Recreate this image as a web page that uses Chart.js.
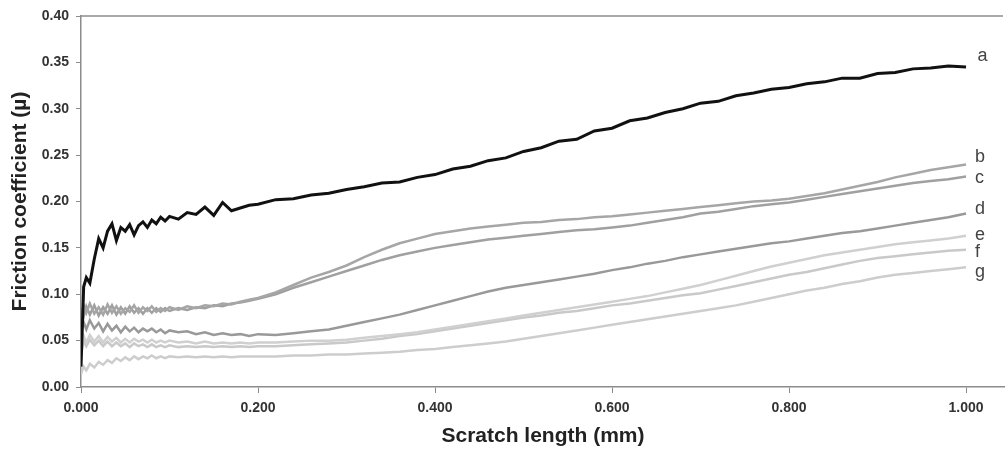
<!DOCTYPE html>
<html>
<head>
<meta charset="utf-8">
<script src="https://cdn.jsdelivr.net/npm/chart.js@4/dist/chart.umd.min.js"></script>
<style>
  html, body { margin: 0; padding: 0; background: #fff; }
  #wrap { width: 1005px; height: 451px; position: relative; }
</style>
</head>
<body>
<div id="wrap"><canvas id="chart"></canvas></div>
<script>
// scratch length (mm)
var scratchLength = [
  0, 0.003, 0.006, 0.01, 0.015, 0.02, 0.025, 0.03, 0.035, 0.04, 0.045, 0.05,
  0.055, 0.06, 0.065, 0.07, 0.075, 0.08, 0.085, 0.09, 0.095, 0.1,
  0.11, 0.12, 0.13, 0.14, 0.15, 0.16, 0.17, 0.18, 0.19, 0.2,
  0.22, 0.24, 0.26, 0.28, 0.30, 0.32, 0.34, 0.36, 0.38, 0.40,
  0.42, 0.44, 0.46, 0.48, 0.50, 0.52, 0.54, 0.56, 0.58, 0.60,
  0.62, 0.64, 0.66, 0.68, 0.70, 0.72, 0.74, 0.76, 0.78, 0.80,
  0.82, 0.84, 0.86, 0.88, 0.90, 0.92, 0.94, 0.96, 0.98, 1.00
];

// friction coefficient per curve
var curveA = [
  0.022, 0.108, 0.118, 0.112, 0.138, 0.160, 0.150, 0.168, 0.176, 0.158, 0.172, 0.168,
  0.175, 0.164, 0.174, 0.178, 0.172, 0.180, 0.176, 0.183, 0.179, 0.184,
  0.181, 0.188, 0.186, 0.194, 0.185, 0.199, 0.190, 0.193, 0.196, 0.197,
  0.202, 0.203, 0.207, 0.209, 0.213, 0.216, 0.220, 0.221, 0.226, 0.229,
  0.235, 0.238, 0.244, 0.247, 0.254, 0.258, 0.265, 0.267, 0.276, 0.279,
  0.287, 0.290, 0.296, 0.300, 0.306, 0.308, 0.314, 0.317, 0.321, 0.323,
  0.327, 0.329, 0.333, 0.333, 0.338, 0.339, 0.343, 0.344, 0.346, 0.345
];
var curveB = [
  0.078, 0.088, 0.080, 0.090, 0.079, 0.086, 0.078, 0.089, 0.080, 0.087, 0.079, 0.085,
  0.081, 0.088, 0.080, 0.086, 0.082, 0.087, 0.081, 0.085, 0.082, 0.086,
  0.083, 0.087, 0.085, 0.088, 0.087, 0.090, 0.089, 0.092, 0.094, 0.096,
  0.102, 0.110, 0.118, 0.124, 0.131, 0.140, 0.148, 0.155, 0.160, 0.165,
  0.168, 0.171, 0.173, 0.175, 0.177, 0.178, 0.180, 0.181, 0.183, 0.184,
  0.186, 0.188, 0.190, 0.192, 0.194, 0.196, 0.198, 0.200, 0.201, 0.203,
  0.206, 0.209, 0.213, 0.217, 0.221, 0.226, 0.230, 0.234, 0.237, 0.240
];
var curveC = [
  0.085, 0.076, 0.087, 0.078, 0.088, 0.077, 0.086, 0.079, 0.088, 0.078, 0.086, 0.079,
  0.087, 0.080, 0.085, 0.079, 0.085, 0.080, 0.085, 0.081, 0.085, 0.082,
  0.085, 0.083, 0.086, 0.085, 0.088, 0.087, 0.090, 0.091, 0.093, 0.095,
  0.100, 0.107, 0.113, 0.119, 0.125, 0.131, 0.137, 0.142, 0.146, 0.150,
  0.153, 0.156, 0.159, 0.161, 0.163, 0.165, 0.167, 0.169, 0.170, 0.172,
  0.174, 0.177, 0.180, 0.183, 0.187, 0.189, 0.192, 0.195, 0.197, 0.199,
  0.202, 0.205, 0.208, 0.211, 0.214, 0.217, 0.220, 0.222, 0.224, 0.227
];
var curveD = [
  0.058, 0.070, 0.062, 0.072, 0.063, 0.069, 0.060, 0.068, 0.061, 0.066, 0.059, 0.065,
  0.060, 0.064, 0.059, 0.063, 0.060, 0.063, 0.059, 0.062, 0.058, 0.061,
  0.059, 0.060, 0.057, 0.059, 0.056, 0.058, 0.056, 0.057, 0.055, 0.057,
  0.056, 0.058, 0.060, 0.062, 0.066, 0.070, 0.074, 0.078, 0.083, 0.088,
  0.093, 0.098, 0.103, 0.107, 0.110, 0.113, 0.116, 0.119, 0.122, 0.126,
  0.129, 0.133, 0.136, 0.140, 0.143, 0.146, 0.149, 0.152, 0.155, 0.157,
  0.160, 0.163, 0.166, 0.168, 0.171, 0.174, 0.177, 0.180, 0.183, 0.187
];
var curveE = [
  0.040, 0.055, 0.048, 0.056, 0.049, 0.055, 0.048, 0.054, 0.049, 0.053, 0.048, 0.052,
  0.048, 0.052, 0.049, 0.051, 0.048, 0.051, 0.048, 0.050, 0.048, 0.050,
  0.048, 0.049, 0.047, 0.049, 0.047, 0.048, 0.047, 0.048, 0.047, 0.048,
  0.048, 0.049, 0.050, 0.050, 0.051, 0.053, 0.055, 0.057, 0.059, 0.062,
  0.065, 0.068, 0.071, 0.074, 0.077, 0.080, 0.083, 0.086, 0.089, 0.092,
  0.095, 0.098, 0.102, 0.106, 0.110, 0.115, 0.120, 0.125, 0.130, 0.134,
  0.138, 0.142, 0.145, 0.148, 0.151, 0.154, 0.156, 0.158, 0.160, 0.163
];
var curveF = [
  0.035, 0.050, 0.044, 0.051, 0.045, 0.050, 0.044, 0.049, 0.044, 0.048, 0.044, 0.047,
  0.043, 0.047, 0.044, 0.046, 0.043, 0.046, 0.043, 0.045, 0.043, 0.045,
  0.043, 0.044, 0.043, 0.044, 0.043, 0.044, 0.043, 0.044, 0.043, 0.044,
  0.044, 0.045, 0.046, 0.047, 0.048, 0.050, 0.052, 0.055, 0.057, 0.060,
  0.063, 0.066, 0.069, 0.072, 0.075, 0.077, 0.080, 0.082, 0.085, 0.088,
  0.090, 0.093, 0.096, 0.099, 0.101, 0.105, 0.109, 0.113, 0.117, 0.121,
  0.124, 0.128, 0.132, 0.136, 0.139, 0.141, 0.143, 0.145, 0.147, 0.148
];
var curveG = [
  0.014, 0.022, 0.018, 0.025, 0.021, 0.027, 0.024, 0.029, 0.026, 0.031, 0.028, 0.032,
  0.029, 0.033, 0.030, 0.033, 0.031, 0.034, 0.031, 0.033, 0.031, 0.033,
  0.032, 0.033, 0.032, 0.033, 0.032, 0.033, 0.032, 0.033, 0.033, 0.033,
  0.033, 0.034, 0.034, 0.035, 0.035, 0.036, 0.037, 0.038, 0.040, 0.041,
  0.043, 0.045, 0.047, 0.049, 0.052, 0.055, 0.058, 0.061, 0.064, 0.067,
  0.070, 0.073, 0.076, 0.079, 0.082, 0.085, 0.088, 0.092, 0.096, 0.100,
  0.104, 0.107, 0.111, 0.114, 0.118, 0.121, 0.123, 0.125, 0.127, 0.129
];

var curveNames = ['a', 'b', 'c', 'd', 'e', 'f', 'g'];
var curveLabelX = [1.013, 1.010, 1.010, 1.010, 1.010, 1.010, 1.010];
var curveLabelY = [0.357, 0.248, 0.225, 0.192, 0.164, 0.145, 0.124];
var xTicks = [0, 0.2, 0.4, 0.6, 0.8, 1.0];

var allCurves = [curveA, curveB, curveC, curveD, curveE, curveF, curveG];
var lineColors = ['#111111', '#a6a6a6', '#a0a0a0', '#999999', '#d0d0d0', '#c9c9c9', '#cdcdcd'];
var lineWidths = [3, 2.5, 2.5, 2.5, 2.5, 2.5, 2.5];

function toPoints(ys){
    var pts = [];
    for (var i = 0; i < scratchLength.length; i++){
        pts.push({x: scratchLength[i], y: ys[i]});
    }
    return pts;
}

var datasets = [];
for (var k = 0; k < allCurves.length; k++){
    datasets.push({
        label: curveNames[k],
        data: toPoints(allCurves[k]),
        borderColor: lineColors[k],
        borderWidth: lineWidths[k],
        pointRadius: 0,
        showLine: true,
        fill: false,
        tension: 0
    });
}

// top frame line + letters at line ends
var extras = {
    id: 'extras',
    afterDraw: function(chart){
        var ctx = chart.ctx;
        var area = chart.chartArea;
        var xs = chart.scales.x, ys = chart.scales.y;
        ctx.save();
        ctx.strokeStyle = '#8c8c8c';
        ctx.lineWidth = 1.5;
        ctx.beginPath();
        ctx.moveTo(area.left, area.top);
        ctx.lineTo(area.right - 2, area.top);
        ctx.stroke();

        ctx.fillStyle = '#444';
        ctx.font = '18px "Liberation Sans", Arial, sans-serif';
        ctx.textAlign = 'left';
        ctx.textBaseline = 'middle';
        for (var i = 0; i < curveNames.length; i++){
            ctx.fillText(curveNames[i], xs.getPixelForValue(curveLabelX[i]), ys.getPixelForValue(curveLabelY[i]));
        }
        ctx.restore();
    }
};

var tickFont = {family: '"Liberation Sans", Arial, sans-serif', size: 14, weight: 'bold'};
var titleFont = {family: '"Liberation Sans", Arial, sans-serif', size: 21, weight: 'bold'};

var myChart = new Chart(document.getElementById('chart').getContext('2d'), {
    type: 'scatter',
    data: {datasets: datasets},
    options: {
        responsive: true,
        maintainAspectRatio: false,
        animation: false,
        layout: {padding: {top: 16, right: 0, bottom: 0, left: 0}},
        plugins: {legend: {display: false}, tooltip: {enabled: false}},
        scales: {
            x: {
                type: 'linear',
                min: 0,
                max: 1.044,
                afterFit: function(scale){ scale.height = 64; },
                afterBuildTicks: function(scale){
                    scale.ticks = xTicks.map(function(v){ return {value: v}; });
                },
                border: {display: true, color: '#8c8c8c', width: 1.5},
                grid: {display: true, drawOnChartArea: false, drawTicks: true, tickLength: 6, color: '#8c8c8c'},
                ticks: {
                    font: tickFont,
                    color: '#333',
                    padding: 7,
                    maxRotation: 0,
                    callback: function(v){ return Number(v).toFixed(3); }
                },
                title: {display: true, text: 'Scratch length (mm)', font: titleFont, color: '#222', padding: {top: 0, bottom: 2}}
            },
            y: {
                min: 0,
                max: 0.40,
                afterFit: function(scale){ scale.width = 81; },
                border: {display: true, color: '#8c8c8c', width: 1.5},
                grid: {display: true, drawOnChartArea: false, drawTicks: true, tickLength: 5, color: '#8c8c8c'},
                ticks: {
                    stepSize: 0.05,
                    font: tickFont,
                    color: '#333',
                    padding: 7,
                    callback: function(v){ return Number(v).toFixed(2); }
                },
                title: {display: true, text: 'Friction coefficient (µ)', font: titleFont, color: '#222', padding: {top: 8, bottom: 0}}
            }
        }
    },
    plugins: [extras]
});
</script>
</body>
</html>
